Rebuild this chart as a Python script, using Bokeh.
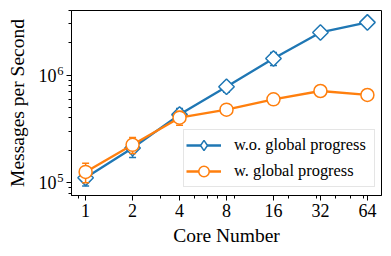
import numpy as np
from bokeh.plotting import figure
from bokeh.models import FixedTicker, Range1d, Legend, LegendItem, ColumnDataSource, LogAxis
from bokeh.embed import file_html
from bokeh.resources import INLINE

# ---- data ----
cores = [1, 2, 4, 8, 16, 32, 64]
x_tick_labels = ["1", "2", "4", "8", "16", "32", "64"]
wo_mean = [1.11e5, 2.10e5, 4.30e5, 7.80e5, 1.43e6, 2.50e6, 3.10e6]
wo_err = [1.8e4, 3.8e4, 6.0e4, 8.5e4, 2.0e5, 2.5e5, 8.0e4]
w_mean = [1.26e5, 2.25e5, 4.03e5, 4.78e5, 5.96e5, 7.13e5, 6.55e5]
w_err = [2.6e4, 3.8e4, 6.0e4, 3.5e4, 2.0e4, 2.0e4, 2.0e4]
y_ticks = [100000, 1000000]
y_tick_base = ["10", "10"]
y_tick_exps = ["5", "6"]
series_labels = ["w.o. global progress", "w. global progress"]

BLUE = "#1f77b4"
ORANGE = "#ff7f0e"
FONT = "Liberation Serif"

p = figure(width=391, height=256, x_axis_type="log", y_axis_type="log",
           x_range=Range1d(0.812, 78.8), y_range=Range1d(7.6e4, 4.0e6),
           y_axis_location=None,
           output_backend="svg", toolbar_location=None,
           min_border_left=71, min_border_right=10, min_border_top=10, min_border_bottom=61)
p.background_fill_color = "white"
p.border_fill_color = "white"
p.outline_line_color = "black"
p.outline_line_width = 1
p.xgrid.visible = False
p.ygrid.visible = False

x_minor = [0.9, 3, 5, 6, 7, 9, 20, 30, 40, 50, 60]
y_minor = [8e4, 9e4] + [k * 1e5 for k in range(2, 10)] + [k * 1e6 for k in range(2, 5)]

# x axis
xa = p.xaxis[0]
xa.ticker = FixedTicker(ticks=cores, minor_ticks=x_minor)
xa.major_label_overrides = {c: l for c, l in zip(cores, x_tick_labels)}
xa.axis_line_color = "black"
xa.major_tick_line_color = "black"
xa.minor_tick_line_color = "black"
xa.major_tick_in = 0
xa.major_tick_out = 5
xa.minor_tick_in = 0
xa.minor_tick_out = 3
xa.major_label_text_font = FONT
xa.major_label_text_font_size = "18px"
xa.major_label_text_color = "black"
xa.major_label_standoff = 3
xa.axis_label = "Core Number"
xa.axis_label_text_font = FONT
xa.axis_label_text_font_size = "19.5px"
xa.axis_label_text_font_style = "normal"
xa.axis_label_text_color = "black"
xa.axis_label_standoff = 5

# y axis, part 1: tick marks only (next to the frame)
ya_ticks = LogAxis(ticker=FixedTicker(ticks=y_ticks, minor_ticks=y_minor),
                   major_label_overrides={t: "" for t in y_ticks},
                   axis_line_color="black", major_tick_line_color="black",
                   minor_tick_line_color="black", major_tick_in=0, major_tick_out=5,
                   minor_tick_in=0, minor_tick_out=3, major_label_standoff=0)
p.add_layout(ya_ticks, "left")

# y axis, part 2: exponents, raised a little above the tick (superscript)
raise_factor = 10 ** (4.5 / 107.5)
exp_pos = [t * raise_factor for t in y_ticks]
ya_exp = LogAxis(ticker=FixedTicker(ticks=exp_pos, minor_ticks=[]),
                 major_label_overrides={t: e for t, e in zip(exp_pos, y_tick_exps)},
                 axis_line_color=None, major_tick_line_color=None, minor_tick_line_color=None,
                 major_tick_in=0, major_tick_out=0, minor_tick_in=0, minor_tick_out=0,
                 major_label_standoff=3, major_label_text_font=FONT,
                 major_label_text_font_size="12.6px", major_label_text_color="black")
p.add_layout(ya_exp, "left")

# y axis, part 3: base "10" and the axis title
ya_base = LogAxis(ticker=FixedTicker(ticks=y_ticks, minor_ticks=[]),
                  major_label_overrides={t: b for t, b in zip(y_ticks, y_tick_base)},
                  axis_line_color=None, major_tick_line_color=None, minor_tick_line_color=None,
                  major_tick_in=0, major_tick_out=0, minor_tick_in=0, minor_tick_out=0,
                  major_label_standoff=-2, major_label_text_font=FONT,
                  major_label_text_font_size="18px", major_label_text_color="black",
                  axis_label="Messages per Second", axis_label_text_font=FONT,
                  axis_label_text_font_size="19.5px", axis_label_text_font_style="normal",
                  axis_label_text_color="black", axis_label_standoff=8)
p.add_layout(ya_base, "left")


def draw_series(mean, err, color, marker, msize, angle):
    lo = [m - e for m, e in zip(mean, err)]
    hi = [m + e for m, e in zip(mean, err)]
    src = ColumnDataSource(dict(x=cores, y=mean, lo=lo, hi=hi))
    p.segment(x0="x", y0="lo", x1="x", y1="hi", source=src, line_color=color, line_width=1.5)
    p.scatter(x="x", y="lo", source=src, marker="dash", size=7, line_color=color, line_width=1.5)
    p.scatter(x="x", y="hi", source=src, marker="dash", size=7, line_color=color, line_width=1.5)
    ln = p.line(x="x", y="y", source=src, line_color=color, line_width=2.3)
    dummy = None
    if marker == "square":
        dummy = p.scatter(x="x", y="y", source=src, marker="diamond", size=1,
                          fill_color="white", line_color=color, line_width=1.5)
    mk = p.scatter(x="x", y="y", source=src, marker=marker, size=msize, angle=angle,
                   fill_color="white", line_color=color, line_width=1.5)
    return ln, (dummy if dummy is not None else mk)


l1, m1 = draw_series(wo_mean, wo_err, BLUE, "square", 11, np.pi / 4)
l2, m2 = draw_series(w_mean, w_err, ORANGE, "circle", 13, 0)

legend = Legend(items=[LegendItem(label=series_labels[0], renderers=[l1, m1]),
                       LegendItem(label=series_labels[1], renderers=[l2, m2])],
                location=(112, 8), margin=0, padding=2, spacing=-2,
                glyph_width=35, glyph_height=26, label_height=20, label_width=138,
                label_standoff=13,
                label_text_font=FONT, label_text_font_size="16.4px", label_text_color="black",
                border_line_color="#cccccc", border_line_width=1,
                background_fill_color="white", background_fill_alpha=0.8)
p.add_layout(legend, "center")

open("out.html", "w").write(file_html(p, INLINE))
